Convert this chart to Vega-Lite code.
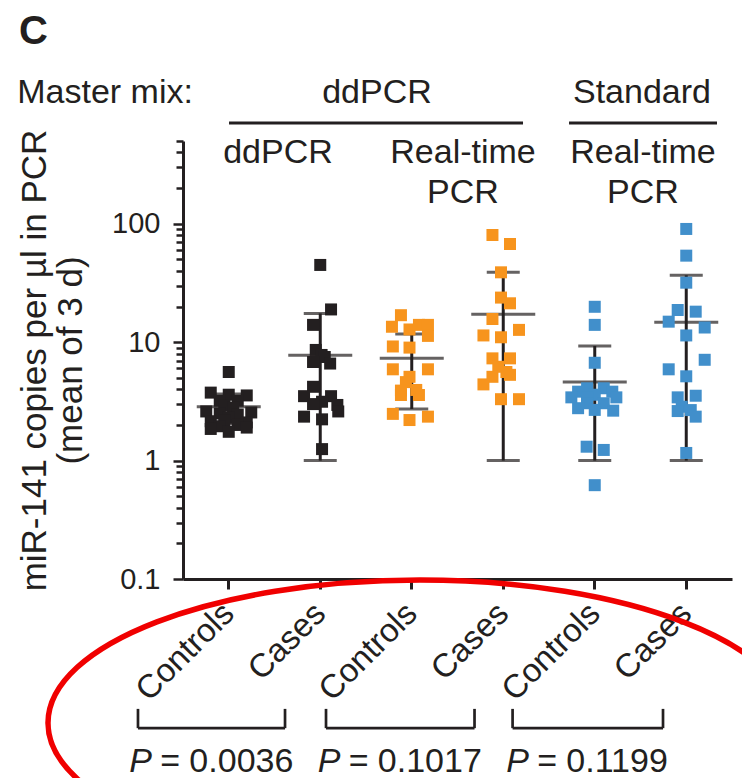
{
  "$schema": "https://vega.github.io/schema/vega-lite/v6.json",
  "width": 549,
  "height": 438,
  "autosize": {"type": "none"},
  "padding": {"left": 183, "top": 141, "right": 10, "bottom": 199},
  "config": {
    "font": "Liberation Sans",
    "view": {"stroke": null},
    "text": {"font": "Liberation Sans", "color": "#231F20"}
  },
  "title": {
    "text": "C",
    "anchor": "start",
    "frame": "group",
    "dx": -164,
    "offset": 24,
    "fontSize": 40,
    "fontWeight": "bold",
    "color": "#231F20"
  },
  "datasets": {
    "pts": [
      {"g": 1, "m": "ddPCR/ddPCR", "v": 5.6, "j": 0},
      {"g": 1, "m": "ddPCR/ddPCR", "v": 3.75, "j": -4},
      {"g": 1, "m": "ddPCR/ddPCR", "v": 3.6, "j": 0},
      {"g": 1, "m": "ddPCR/ddPCR", "v": 3.55, "j": 4},
      {"g": 1, "m": "ddPCR/ddPCR", "v": 3.2, "j": -2},
      {"g": 1, "m": "ddPCR/ddPCR", "v": 3.2, "j": 2},
      {"g": 1, "m": "ddPCR/ddPCR", "v": 2.9, "j": -1},
      {"g": 1, "m": "ddPCR/ddPCR", "v": 2.8, "j": 1},
      {"g": 1, "m": "ddPCR/ddPCR", "v": 2.6, "j": -5},
      {"g": 1, "m": "ddPCR/ddPCR", "v": 2.55, "j": 5},
      {"g": 1, "m": "ddPCR/ddPCR", "v": 2.5, "j": -2},
      {"g": 1, "m": "ddPCR/ddPCR", "v": 2.45, "j": 2},
      {"g": 1, "m": "ddPCR/ddPCR", "v": 2.3, "j": 0},
      {"g": 1, "m": "ddPCR/ddPCR", "v": 2.2, "j": -1},
      {"g": 1, "m": "ddPCR/ddPCR", "v": 2.15, "j": -4},
      {"g": 1, "m": "ddPCR/ddPCR", "v": 2.1, "j": 4},
      {"g": 1, "m": "ddPCR/ddPCR", "v": 2.0, "j": 2},
      {"g": 1, "m": "ddPCR/ddPCR", "v": 1.95, "j": -2},
      {"g": 1, "m": "ddPCR/ddPCR", "v": 1.9, "j": 4},
      {"g": 1, "m": "ddPCR/ddPCR", "v": 1.85, "j": -4},
      {"g": 1, "m": "ddPCR/ddPCR", "v": 1.75, "j": 0},
      {"g": 2, "m": "ddPCR/ddPCR", "v": 44.9, "j": 0},
      {"g": 2, "m": "ddPCR/ddPCR", "v": 18.9, "j": 2.4},
      {"g": 2, "m": "ddPCR/ddPCR", "v": 14.0, "j": -1.6},
      {"g": 2, "m": "ddPCR/ddPCR", "v": 8.6, "j": -1},
      {"g": 2, "m": "ddPCR/ddPCR", "v": 7.8, "j": 0.3},
      {"g": 2, "m": "ddPCR/ddPCR", "v": 7.5, "j": 1},
      {"g": 2, "m": "ddPCR/ddPCR", "v": 6.8, "j": -1.6},
      {"g": 2, "m": "ddPCR/ddPCR", "v": 6.6, "j": 2.2},
      {"g": 2, "m": "ddPCR/ddPCR", "v": 4.2, "j": -1.6},
      {"g": 2, "m": "ddPCR/ddPCR", "v": 3.5, "j": -3.6},
      {"g": 2, "m": "ddPCR/ddPCR", "v": 3.5, "j": 2.4},
      {"g": 2, "m": "ddPCR/ddPCR", "v": 3.14, "j": 0.4},
      {"g": 2, "m": "ddPCR/ddPCR", "v": 3.0, "j": -1.6},
      {"g": 2, "m": "ddPCR/ddPCR", "v": 2.95, "j": 3.8},
      {"g": 2, "m": "ddPCR/ddPCR", "v": 2.6, "j": 4},
      {"g": 2, "m": "ddPCR/ddPCR", "v": 2.35, "j": -3.6},
      {"g": 2, "m": "ddPCR/ddPCR", "v": 2.23, "j": 0.4},
      {"g": 2, "m": "ddPCR/ddPCR", "v": 1.25, "j": 0.4},
      {"g": 3, "m": "ddPCR/real-time", "v": 16.9, "j": -2.4},
      {"g": 3, "m": "ddPCR/real-time", "v": 13.5, "j": -4.4},
      {"g": 3, "m": "ddPCR/real-time", "v": 12.8, "j": -0.5},
      {"g": 3, "m": "ddPCR/real-time", "v": 14.0, "j": 1.6},
      {"g": 3, "m": "ddPCR/real-time", "v": 14.0, "j": 3.6},
      {"g": 3, "m": "ddPCR/real-time", "v": 11.3, "j": 3.6},
      {"g": 3, "m": "ddPCR/real-time", "v": 9.2, "j": -4.2},
      {"g": 3, "m": "ddPCR/real-time", "v": 9.0, "j": -0.5},
      {"g": 3, "m": "ddPCR/real-time", "v": 5.9, "j": -4.2},
      {"g": 3, "m": "ddPCR/real-time", "v": 5.9, "j": 3.6},
      {"g": 3, "m": "ddPCR/real-time", "v": 5.1, "j": -0.5},
      {"g": 3, "m": "ddPCR/real-time", "v": 4.6, "j": -1.3},
      {"g": 3, "m": "ddPCR/real-time", "v": 3.9, "j": -2.4},
      {"g": 3, "m": "ddPCR/real-time", "v": 3.95, "j": 1},
      {"g": 3, "m": "ddPCR/real-time", "v": 3.58, "j": 1.6},
      {"g": 3, "m": "ddPCR/real-time", "v": 3.58, "j": -2.4},
      {"g": 3, "m": "ddPCR/real-time", "v": 2.48, "j": -4.2},
      {"g": 3, "m": "ddPCR/real-time", "v": 2.2, "j": -0.5},
      {"g": 3, "m": "ddPCR/real-time", "v": 2.35, "j": 3.6},
      {"g": 4, "m": "ddPCR/real-time", "v": 80.4, "j": -2.4},
      {"g": 4, "m": "ddPCR/real-time", "v": 67.5, "j": 1.5},
      {"g": 4, "m": "ddPCR/real-time", "v": 38.9, "j": -0.5},
      {"g": 4, "m": "ddPCR/real-time", "v": 23.8, "j": -0.5},
      {"g": 4, "m": "ddPCR/real-time", "v": 21.3, "j": 1.5},
      {"g": 4, "m": "ddPCR/real-time", "v": 15.7, "j": -2.4},
      {"g": 4, "m": "ddPCR/real-time", "v": 12.7, "j": 3.5},
      {"g": 4, "m": "ddPCR/real-time", "v": 11.4, "j": -4.4},
      {"g": 4, "m": "ddPCR/real-time", "v": 11.0, "j": -0.5},
      {"g": 4, "m": "ddPCR/real-time", "v": 7.3, "j": -2.4},
      {"g": 4, "m": "ddPCR/real-time", "v": 7.3, "j": 1.5},
      {"g": 4, "m": "ddPCR/real-time", "v": 6.2, "j": -1.1},
      {"g": 4, "m": "ddPCR/real-time", "v": 5.6, "j": 0.7},
      {"g": 4, "m": "ddPCR/real-time", "v": 5.3, "j": 1.5},
      {"g": 4, "m": "ddPCR/real-time", "v": 5.1, "j": -2.4},
      {"g": 4, "m": "ddPCR/real-time", "v": 4.4, "j": -4.4},
      {"g": 4, "m": "ddPCR/real-time", "v": 3.3, "j": -0.5},
      {"g": 4, "m": "ddPCR/real-time", "v": 3.3, "j": 3.5},
      {"g": 5, "m": "Standard/real-time", "v": 19.9, "j": 0},
      {"g": 5, "m": "Standard/real-time", "v": 14.0, "j": 0},
      {"g": 5, "m": "Standard/real-time", "v": 6.7, "j": 0},
      {"g": 5, "m": "Standard/real-time", "v": 4.08, "j": -1.7},
      {"g": 5, "m": "Standard/real-time", "v": 4.08, "j": 2},
      {"g": 5, "m": "Standard/real-time", "v": 3.82, "j": -3.7},
      {"g": 5, "m": "Standard/real-time", "v": 3.82, "j": 3.9},
      {"g": 5, "m": "Standard/real-time", "v": 3.6, "j": 0},
      {"g": 5, "m": "Standard/real-time", "v": 3.42, "j": -5.2},
      {"g": 5, "m": "Standard/real-time", "v": 3.42, "j": 4.8},
      {"g": 5, "m": "Standard/real-time", "v": 3.42, "j": -1.7},
      {"g": 5, "m": "Standard/real-time", "v": 3.05, "j": -1.7},
      {"g": 5, "m": "Standard/real-time", "v": 3.05, "j": 2},
      {"g": 5, "m": "Standard/real-time", "v": 2.77, "j": -3.7},
      {"g": 5, "m": "Standard/real-time", "v": 2.68, "j": 0},
      {"g": 5, "m": "Standard/real-time", "v": 2.64, "j": 4.1},
      {"g": 5, "m": "Standard/real-time", "v": 1.31, "j": -1.8},
      {"g": 5, "m": "Standard/real-time", "v": 1.23, "j": 2},
      {"g": 5, "m": "Standard/real-time", "v": 0.62, "j": 0},
      {"g": 6, "m": "Standard/real-time", "v": 90.4, "j": 0},
      {"g": 6, "m": "Standard/real-time", "v": 53.8, "j": 0},
      {"g": 6, "m": "Standard/real-time", "v": 31.8, "j": 0},
      {"g": 6, "m": "Standard/real-time", "v": 18.7, "j": -1.9},
      {"g": 6, "m": "Standard/real-time", "v": 18.1, "j": 2.1},
      {"g": 6, "m": "Standard/real-time", "v": 14.9, "j": -3.9},
      {"g": 6, "m": "Standard/real-time", "v": 13.3, "j": 4.1},
      {"g": 6, "m": "Standard/real-time", "v": 11.4, "j": 0},
      {"g": 6, "m": "Standard/real-time", "v": 7.1, "j": 4.1},
      {"g": 6, "m": "Standard/real-time", "v": 5.9, "j": -3.9},
      {"g": 6, "m": "Standard/real-time", "v": 5.15, "j": 0},
      {"g": 6, "m": "Standard/real-time", "v": 3.42, "j": -1.9},
      {"g": 6, "m": "Standard/real-time", "v": 3.53, "j": 2.1},
      {"g": 6, "m": "Standard/real-time", "v": 2.85, "j": -1},
      {"g": 6, "m": "Standard/real-time", "v": 2.62, "j": -1.9},
      {"g": 6, "m": "Standard/real-time", "v": 2.67, "j": 1},
      {"g": 6, "m": "Standard/real-time", "v": 2.35, "j": 2.1},
      {"g": 6, "m": "Standard/real-time", "v": 1.16, "j": 0}
    ],
    "summ": [
      {"g": 1, "mean": 2.85, "lo": 2.05, "hi": 3.65},
      {"g": 2, "mean": 7.75, "lo": 1.0, "hi": 17.5},
      {"g": 3, "mean": 7.3, "lo": 2.73, "hi": 11.7},
      {"g": 4, "mean": 17.2, "lo": 1.0, "hi": 38.9},
      {"g": 5, "mean": 4.6, "lo": 1.0, "hi": 9.3},
      {"g": 6, "mean": 14.7, "lo": 1.0, "hi": 36.7}
    ],
    "heads": [
      {"t": "Master mix:", "pos": -0.352, "y": 1050},
      {"t": "ddPCR", "pos": 2.62, "y": 1050},
      {"t": "Standard", "pos": 5.516, "y": 1050},
      {"t": "ddPCR", "pos": 1.538, "y": 325},
      {"t": "Real-time", "pos": 3.56, "y": 325},
      {"t": "PCR", "pos": 3.56, "y": 150},
      {"t": "Real-time", "pos": 5.527, "y": 325},
      {"t": "PCR", "pos": 5.527, "y": 150}
    ],
    "spans": [
      {"pos": 1.003, "pos2": 4.216, "y": 710},
      {"pos": 4.719, "pos2": 6.336, "y": 710}
    ],
    "tests": [
      {"a": 0.008, "b": 1.615, "mid": 0.81, "p": 0.0036},
      {"a": 2.063, "b": 3.686, "mid": 2.87, "p": 0.1017},
      {"a": 4.102, "b": 5.746, "mid": 4.93, "p": 0.1199}
    ],
    "ring": [
      {"pos": 3.09, "y": 0.00608}
    ]
  },
  "layer": [
    {
      "encoding": {
        "x": {
          "field": "g",
          "type": "ordinal",
          "scale": {"domain": [1, 2, 3, 4, 5, 6], "paddingInner": 0, "paddingOuter": 0},
          "axis": {
            "title": null,
            "labelExpr": "datum.value % 2 == 1 ? 'Controls' : 'Cases'",
            "labelAngle": -45,
            "labelAlign": "right",
            "labelBaseline": "middle",
            "labelFontSize": 33,
            "labelPadding": 19,
            "labelColor": "#231F20",
            "labelOverlap": false,
            "tickSize": 10,
            "tickWidth": 3,
            "tickColor": "#231F20",
            "domainColor": "#231F20",
            "domainWidth": 3,
            "grid": false
          }
        }
      },
      "layer": [
        {
          "data": {"name": "summ"},
          "mark": {"type": "rule", "color": "#231F20", "strokeWidth": 3},
          "encoding": {
            "y": {
              "field": "lo",
              "type": "quantitative",
              "scale": {"type": "log", "domain": [0.1, 500], "nice": false},
              "axis": {
                "title": ["miR-141 copies per µl in PCR", "(mean of 3 d)"],
                "values": [0.1, 0.2, 0.3, 0.4, 0.5, 0.6, 0.7, 0.8, 0.9, 1, 2, 3, 4, 5, 6, 7, 8, 9, 10, 20, 30, 40, 50, 60, 70, 80, 90, 100, 200, 300, 400, 500],
                "labelExpr": "abs(log(datum.value) / LN10 - round(log(datum.value) / LN10)) < 0.001 ? format(datum.value, '~g') : ''",
                "tickSize": {"condition": {"test": "abs(log(datum.value) / LN10 - round(log(datum.value) / LN10)) < 0.001", "value": 10}, "value": 7},
                "tickWidth": 2.5,
                "tickColor": "#231F20",
                "domainColor": "#231F20",
                "domainWidth": 3,
                "labelFontSize": 29,
                "labelColor": "#231F20",
                "labelPadding": 13,
                "labelOverlap": false,
                "labelFlush": false,
                "titleFontSize": 35,
                "titleFontWeight": "normal",
                "titleColor": "#231F20",
                "titleLineHeight": 36,
                "titlePadding": 23,
                "grid": false
              }
            },
            "y2": {"field": "hi"}
          }
        },
        {
          "data": {"name": "summ"},
          "mark": {"type": "tick", "color": "#231F20", "thickness": 3, "size": 64},
          "encoding": {"y": {"field": "mean", "type": "quantitative"}}
        },
        {
          "data": {"name": "summ"},
          "mark": {"type": "tick", "color": "#231F20", "thickness": 3, "size": 33},
          "encoding": {"y": {"field": "lo", "type": "quantitative"}}
        },
        {
          "data": {"name": "summ"},
          "mark": {"type": "tick", "color": "#231F20", "thickness": 3, "size": 33},
          "encoding": {"y": {"field": "hi", "type": "quantitative"}}
        },
        {
          "data": {"name": "pts"},
          "mark": {"type": "point", "shape": "square", "filled": true, "size": 144, "opacity": 1},
          "encoding": {
            "y": {"field": "v", "type": "quantitative"},
            "xOffset": {"field": "j", "type": "quantitative", "scale": {"domain": [-5, 5], "range": [23.25, 68.25]}},
            "color": {
              "field": "m",
              "type": "nominal",
              "scale": {"domain": ["ddPCR/ddPCR", "ddPCR/real-time", "Standard/real-time"], "range": ["#231F20", "#F7941D", "#418FCB"]},
              "legend": null
            }
          }
        }
      ]
    },
    {
      "encoding": {
        "x": {"field": "pos", "type": "quantitative", "scale": {"domain": [0.5, 6.5], "nice": false, "zero": false}, "axis": null}
      },
      "layer": [
        {
          "data": {"name": "heads"},
          "mark": {"type": "text", "fontSize": 34, "align": "center", "baseline": "alphabetic"},
          "encoding": {
            "y": {"field": "y", "type": "quantitative", "scale": {"type": "log", "domain": [0.1, 500], "nice": false}, "axis": null},
            "text": {"field": "t"}
          }
        },
        {
          "data": {"name": "spans"},
          "mark": {"type": "rule", "color": "#231F20", "strokeWidth": 3},
          "encoding": {
            "x2": {"field": "pos2"},
            "y": {"field": "y", "type": "quantitative", "axis": null}
          }
        },
        {
          "data": {"name": "tests"},
          "mark": {"type": "rule", "color": "#231F20", "strokeWidth": 2.7},
          "encoding": {
            "x": {"field": "a", "type": "quantitative", "axis": null},
            "x2": {"field": "b"},
            "y": {"datum": 0.0055, "type": "quantitative", "axis": null}
          }
        },
        {
          "data": {"name": "tests"},
          "mark": {"type": "rule", "color": "#231F20", "strokeWidth": 2.7},
          "encoding": {
            "x": {"field": "a", "type": "quantitative", "axis": null},
            "y": {"datum": 0.008, "type": "quantitative", "axis": null},
            "y2": {"datum": 0.0055}
          }
        },
        {
          "data": {"name": "tests"},
          "mark": {"type": "rule", "color": "#231F20", "strokeWidth": 2.7},
          "encoding": {
            "x": {"field": "b", "type": "quantitative", "axis": null},
            "y": {"datum": 0.008, "type": "quantitative", "axis": null},
            "y2": {"datum": 0.0055}
          }
        },
        {
          "data": {"name": "tests"},
          "mark": {"type": "text", "fontSize": 34, "fontStyle": "italic", "align": "left", "baseline": "alphabetic", "dx": -82, "text": "P"},
          "encoding": {
            "x": {"field": "mid", "type": "quantitative", "axis": null},
            "y": {"datum": 0.00235, "type": "quantitative", "axis": null}
          }
        },
        {
          "data": {"name": "tests"},
          "mark": {"type": "text", "fontSize": 34, "align": "left", "baseline": "alphabetic", "dx": -51, "text": "="},
          "encoding": {
            "x": {"field": "mid", "type": "quantitative", "axis": null},
            "y": {"datum": 0.00235, "type": "quantitative", "axis": null}
          }
        },
        {
          "data": {"name": "tests"},
          "mark": {"type": "text", "fontSize": 34, "align": "left", "baseline": "alphabetic", "dx": -22},
          "encoding": {
            "x": {"field": "mid", "type": "quantitative", "axis": null},
            "y": {"datum": 0.00235, "type": "quantitative", "axis": null},
            "text": {"field": "p", "type": "quantitative", "format": ".4f"}
          }
        },
        {
          "data": {"name": "ring"},
          "mark": {
            "type": "point",
            "shape": "M-1,0C-1,-0.2123,-0.5523,-0.3844,0,-0.3844C0.5523,-0.3844,1,-0.2123,1,0C1,0.2123,0.5523,0.3844,0,0.3844C-0.5523,0.3844,-1,0.2123,-1,0Z",
            "size": 553536,
            "filled": false,
            "color": "#F00000",
            "strokeWidth": 5.5,
            "opacity": 1
          },
          "encoding": {
            "y": {"field": "y", "type": "quantitative", "axis": null}
          }
        }
      ]
    }
  ],
  "resolve": {"scale": {"x": "independent"}, "axis": {"y": "independent"}}
}
